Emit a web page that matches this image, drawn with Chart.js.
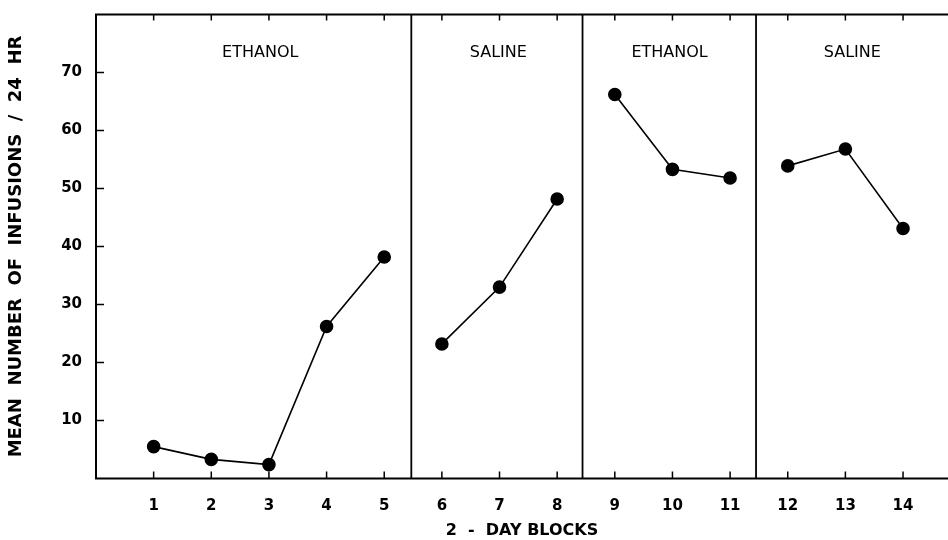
<!DOCTYPE html>
<html>
<head>
<meta charset="utf-8">
<script src="https://cdn.jsdelivr.net/npm/chart.js@4/dist/chart.umd.min.js"></script>
<style>
  html, body { margin: 0; padding: 0; background: #ffffff; }
  #wrap { width: 948px; height: 540px; position: relative; }
</style>
</head>
<body>
<div id="wrap"><canvas id="c" width="948" height="540"></canvas></div>
<script>
// ---- data ----
const blocks = [1, 2, 3, 4, 5, 6, 7, 8, 9, 10, 11, 12, 13, 14];
const yTickValues = [10, 20, 30, 40, 50, 60, 70];

const ethanol1X = [1, 2, 3, 4, 5];
const ethanol1Y = [5.5, 3.3, 2.4, 26.2, 38.2];
const saline1X  = [6, 7, 8];
const saline1Y  = [23.2, 33.0, 48.2];
const ethanol2X = [9, 10, 11];
const ethanol2Y = [66.2, 53.3, 51.8];
const saline2X  = [12, 13, 14];
const saline2Y  = [53.9, 56.8, 43.1];

const phaseNames   = ['ETHANOL', 'SALINE', 'ETHANOL', 'SALINE'];
const phaseCenters = [2.85, 6.98, 9.95, 13.12];
const phaseBreaks  = [5.47, 8.44, 11.45];

const xTitle = '2  -  DAY BLOCKS';
const yTitle = 'MEAN  NUMBER  OF  INFUSIONS  /  24  HR';

// ---- build datasets ----
function pts(xs, ys) { return xs.map((x, i) => ({ x: x, y: ys[i] })); }
function ds(xs, ys) {
  return {
    data: pts(xs, ys),
    borderColor: '#000',
    backgroundColor: '#000',
    borderWidth: 1.6,
    pointRadius: 6,
    pointHoverRadius: 6,
    pointBackgroundColor: '#000',
    pointBorderColor: '#000',
    showLine: true,
    tension: 0
  };
}

const labelFont = { family: "'DejaVu Sans', 'Liberation Sans', sans-serif", size: 15, weight: 'bold' };

const overlay = {
  id: 'overlay',
  beforeDatasetsDraw(chart) {
    const ctx = chart.ctx;
    const a = chart.chartArea;
    const xs = chart.scales.x, ys = chart.scales.y;
    ctx.save();
    ctx.strokeStyle = '#000';
    ctx.lineCap = 'butt';
    // frame: left, bottom, top
    ctx.lineWidth = 2;
    ctx.beginPath();
    ctx.moveTo(a.left, a.top); ctx.lineTo(a.left, a.bottom);
    ctx.moveTo(a.left - 1, a.bottom); ctx.lineTo(a.right, a.bottom);
    ctx.moveTo(a.left - 1, a.top); ctx.lineTo(a.right, a.top);
    ctx.stroke();
    // phase separators
    ctx.lineWidth = 1.8;
    ctx.beginPath();
    phaseBreaks.forEach(b => {
      const px = xs.getPixelForValue(b);
      ctx.moveTo(px, a.top); ctx.lineTo(px, a.bottom);
    });
    ctx.stroke();
    // inward tick marks
    ctx.lineWidth = 1.5;
    ctx.beginPath();
    xs.ticks.forEach(t => {
      const px = xs.getPixelForValue(t.value);
      ctx.moveTo(px, a.bottom); ctx.lineTo(px, a.bottom - 7);
      ctx.moveTo(px, a.top); ctx.lineTo(px, a.top + 6);
    });
    ys.ticks.forEach(t => {
      const py = ys.getPixelForValue(t.value);
      ctx.moveTo(a.left, py); ctx.lineTo(a.left + 8, py);
    });
    ctx.stroke();
    // phase labels
    ctx.fillStyle = '#000';
    ctx.font = "16px 'DejaVu Sans', 'Liberation Sans', sans-serif";
    ctx.textAlign = 'center';
    ctx.textBaseline = 'middle';
    phaseNames.forEach((n, i) => {
      ctx.fillText(n, xs.getPixelForValue(phaseCenters[i]), 53);
    });
    ctx.restore();
  }
};

new Chart(document.getElementById('c'), {
  type: 'scatter',
  data: {
    datasets: [ds(ethanol1X, ethanol1Y), ds(saline1X, saline1Y), ds(ethanol2X, ethanol2Y), ds(saline2X, saline2Y)]
  },
  options: {
    responsive: false,
    animation: false,
    layout: { autoPadding: false, padding: { top: 14.5, right: 0, left: 0, bottom: 0 } },
    plugins: { legend: { display: false }, tooltip: { enabled: false } },
    scales: {
      x: {
        type: 'linear',
        min: 0,
        max: 14.78,
        afterBuildTicks: s => { s.ticks = blocks.map(v => ({ value: v })); },
        afterFit: s => { s.height = 61.5; s.paddingLeft = 0; s.paddingRight = 0; },
        grid: { display: false, drawTicks: false },
        border: { display: false },
        ticks: { color: '#000', font: labelFont, padding: 19, maxRotation: 0, autoSkip: false },
        title: { display: true, text: xTitle, color: '#000', font: { family: "'DejaVu Sans', sans-serif", size: 16, weight: 'bold' }, padding: { top: 0, bottom: 0 } }
      },
      y: {
        type: 'linear',
        min: 0,
        max: 80,
        afterBuildTicks: s => { s.ticks = yTickValues.map(v => ({ value: v })); },
        afterFit: s => { s.width = 96; s.paddingTop = 0; s.paddingBottom = 0; },
        grid: { display: false, drawTicks: false },
        border: { display: false },
        ticks: { color: '#000', font: labelFont, padding: 14 },
        title: { display: true, text: yTitle, color: '#000', font: { family: "'DejaVu Sans', sans-serif", size: 18, weight: 'bold' }, padding: { top: 6, bottom: 0 } }
      }
    }
  },
  plugins: [overlay]
});
</script>
</body>
</html>
